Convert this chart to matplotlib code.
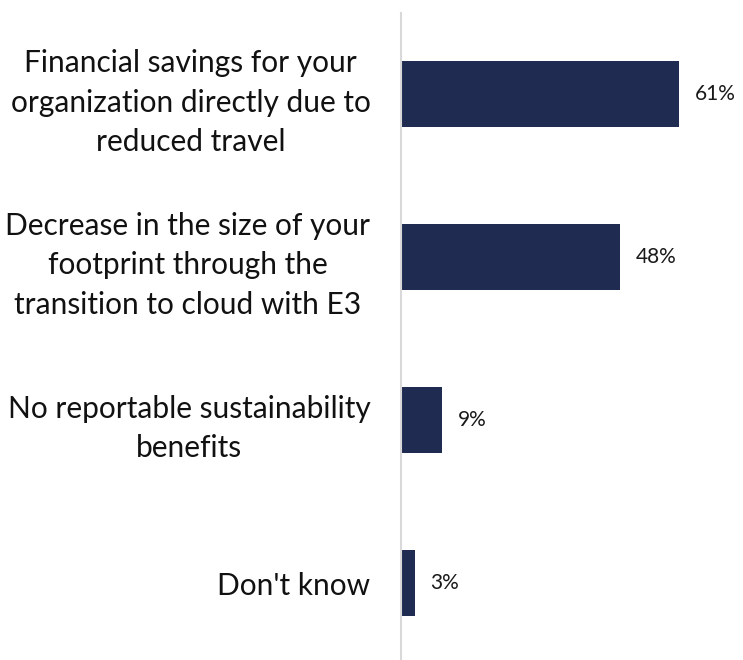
import matplotlib.pyplot as plt

# Data
labels = ['Financial savings for your\norganization directly due to\nreduced travel',
          'Decrease in the size of your\nfootprint through the\ntransition to cloud with E3',
          'No reportable sustainability\nbenefits',
          "Don't know"]
values = [61, 48, 9, 3]

plt.rcParams['font.family'] = ['Lato', 'DejaVu Sans']

fig = plt.figure(figsize=(7.43, 6.60), dpi=100)
ax = fig.add_axes([401/743, 0, 342/743, 647/660])

pos = list(range(len(values)))
ax.barh(pos, values, height=0.405, color='#202b52')
for p, v in zip(pos, values):
    ax.text(v + 3.4, p, f'{v}%', va='center', ha='left', fontsize=15, color='#1a1a1a')

ax.set_xlim(0, 75)
ax.set_ylim(3.47, -0.5)
ax.set_yticks(pos)
ax.set_yticklabels(labels, fontsize=21.5, linespacing=1.48, color='#111111',
                   ha='right', multialignment='center')
ax.tick_params(axis='y', length=0, pad=22)
ax.set_xticks([])
for s in ['top', 'right', 'bottom']:
    ax.spines[s].set_visible(False)
ax.spines['left'].set_color('#d9d9d9')
ax.spines['left'].set_linewidth(1.5)

fig.savefig('out.png', dpi=100)
